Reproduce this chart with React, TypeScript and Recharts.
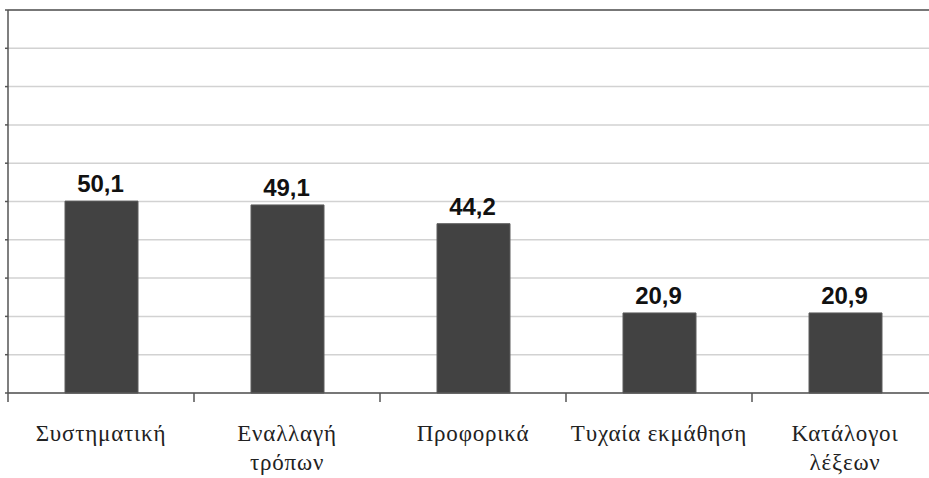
import React from 'react';
import { BarChart, Bar, XAxis, YAxis, CartesianGrid, LabelList, ReferenceLine } from 'recharts';

const categories: string[][] = [
  ['Συστηματική'],
  ['Εναλλαγή', 'τρόπων'],
  ['Προφορικά'],
  ['Τυχαία εκμάθηση'],
  ['Κατάλογοι', 'λέξεων'],
];
const values: number[] = [50.1, 49.1, 44.2, 20.9, 20.9];
const yTicks: number[] = [0, 10, 20, 30, 40, 50, 60, 70, 80, 90, 100];

const data = categories.map((c, i) => ({ name: c.join('\n'), value: values[i] }));

const BAND = 186;

const CatTick = (props: any) => {
  const { x, y, payload } = props;
  const lines = String(payload.value).split('\n');
  const off = payload && typeof payload.offset === 'number' && payload.offset > 0 ? payload.offset : BAND / 2;
  return (
    <g>
      <line x1={x - off} x2={x - off} y1={y - 9} y2={y} stroke="#555" strokeWidth={1.5} />
      {lines.map((l, i) => (
        <text
          key={i}
          x={x}
          y={y + 39 + i * 29}
          textAnchor="middle"
          fontFamily="Liberation Serif"
          fontSize={23}
          letterSpacing={0.8}
          fill="#222"
        >
          {l}
        </text>
      ))}
    </g>
  );
};

const ValueLabel = (props: any) => {
  const { x, y, width, value } = props;
  return (
    <text
      x={x + width / 2 - 1}
      y={y - 9}
      textAnchor="middle"
      fontFamily="Liberation Sans"
      fontWeight="bold"
      fontSize={24}
      fill="#111"
    >
      {Number(value).toFixed(1).replace('.', ',')}
    </text>
  );
};

export default function App() {
  return (
    <div style={{ position: 'fixed', left: 0, top: 0, width: 929, height: 478, overflow: 'hidden', background: '#fff' }}>
      <BarChart width={940} height={478} data={data} margin={{ top: 10, right: 2, left: 0, bottom: 0 }}>
        <CartesianGrid vertical={false} stroke="#d2d2d2" strokeWidth={1.5} />
        <YAxis
          domain={[0, 100]}
          ticks={yTicks}
          width={8}
          tickSize={3}
          tickFormatter={() => ''}
          axisLine={{ stroke: '#555', strokeWidth: 1.5 }}
          tickLine={{ stroke: '#555', strokeWidth: 1.5 }}
        />
        <XAxis
          dataKey="name"
          height={85}
          interval={0}
          tickSize={9}
          tickMargin={0}
          tickLine={false}
          axisLine={{ stroke: '#555', strokeWidth: 1.5 }}
          tick={<CatTick />}
        />
        <ReferenceLine y={100} stroke="#777" strokeWidth={2} />
        <Bar dataKey="value" fill="#424242" stroke="#5c5c5c" strokeWidth={1} barSize={73} isAnimationActive={false}>
          <LabelList dataKey="value" content={<ValueLabel />} />
        </Bar>
      </BarChart>
    </div>
  );
}
